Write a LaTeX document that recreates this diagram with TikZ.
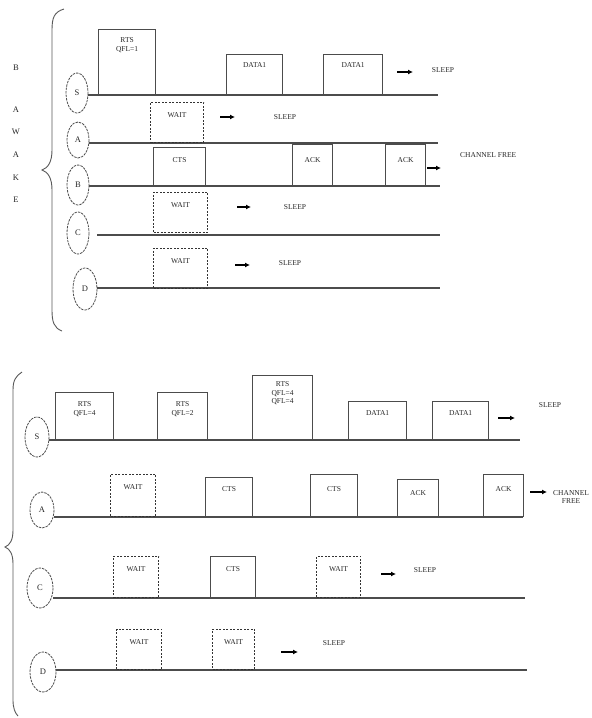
\documentclass[tikz,border=0pt]{standalone}
\usepackage{fontspec}
\setmainfont{Liberation Serif}
\usetikzlibrary{arrows.meta}
\begin{document}
\begin{tikzpicture}[x=1pt,y=-1pt,
  tl/.style={draw=black!70,line width=1.5pt},
  sbox/.style={draw=black!70,line width=1.2pt,inner sep=0pt,anchor=south west},
  dbox/.style={draw=black!80,line width=1.2pt,dash pattern=on 2pt off 1.5pt,inner sep=0pt,anchor=south west},
  lbl/.style={font=\fontsize{7.5}{8.5}\selectfont,text=black!85,align=center,inner sep=0pt},
  big/.style={font=\fontsize{8.5}{9.5}\selectfont},
  oval/.style={draw=black!70,line width=0.8pt,dash pattern=on 2.5pt off 1pt},
  arr/.style={-{Latex[length=5pt,width=5pt]},line width=1.5pt,black},
  brace/.style={draw=black!65,line width=0.9pt}]
\useasboundingbox (0,0) rectangle (592,718);

% ---------- top section ----------
\draw[brace] (64,9) .. controls (54,12) and (52,18) .. (52,30) -- (52,150)
  .. controls (52,162) and (48,168) .. (42,170) .. controls (48,172) and (52,178) .. (52,190)
  -- (52,310) .. controls (52,322) and (54,328) .. (62,331);
\foreach \t/\yy [count=\i] in {B/68,A/110,W/132,A/155,K/178,E/200}
  \node[lbl,big] (aw\i) at (16,\yy) {\t};

% S
\draw[oval] (77,93) circle[x radius=11,y radius=20];
\node[lbl,big] (tS) at (77,93) {S};
\coordinate (tSa) at (88,95); \coordinate (tSb) at (438,95);
\draw[tl] (tSa) -- (tSb);
\node[sbox,minimum width=57,minimum height=65] (t1) at (98,95) {};
\node[lbl,anchor=north] (t1l) at ([yshift=-9pt]t1.north) {RTS\\QFL=1};
\node[sbox,minimum width=56,minimum height=40] (t2) at (226,95) {};
\node[lbl,anchor=north] (t2l) at ([yshift=-9pt]t2.north) {DATA1};
\node[sbox,minimum width=59,minimum height=40] (t3) at (323,95) {};
\node[lbl,anchor=north] (t3l) at ([yshift=-9pt]t3.north) {DATA1};
\coordinate (ta1) at (397,72); \coordinate (ta2) at (413,72);
\draw[arr] (ta1) -- (ta2);
\node[lbl] (ts1) at (443,70) {SLEEP};

% A
\draw[oval] (78,140) circle[x radius=11,y radius=18];
\node[lbl,big] (tA) at (78,140) {A};
\coordinate (tAa) at (89,143); \coordinate (tAb) at (438,143);
\draw[tl] (tAa) -- (tAb);
\node[dbox,minimum width=53,minimum height=40] (t4) at (150,143) {};
\node[lbl,anchor=north] (t4l) at ([yshift=-11pt]t4.north) {WAIT};
\coordinate (ta3) at (220,117); \coordinate (ta4) at (235,117);
\draw[arr] (ta3) -- (ta4);
\node[lbl] (ts2) at (285,117) {SLEEP};

% B
\draw[oval] (78,185) circle[x radius=11,y radius=20];
\node[lbl,big] (tB) at (78,185) {B};
\coordinate (tBa) at (89,186); \coordinate (tBb) at (440,186);
\draw[tl] (tBa) -- (tBb);
\node[sbox,minimum width=52,minimum height=38] (t5) at (153,186) {};
\node[lbl,anchor=north] (t5l) at ([yshift=-11pt]t5.north) {CTS};
\node[sbox,minimum width=40,minimum height=41] (t6) at (292,186) {};
\node[lbl,anchor=north] (t6l) at ([yshift=-14pt]t6.north) {ACK};
\node[sbox,minimum width=40,minimum height=41] (t7) at (385,186) {};
\node[lbl,anchor=north] (t7l) at ([yshift=-14pt]t7.north) {ACK};
\coordinate (ta5) at (427,168); \coordinate (ta6) at (441,168);
\draw[arr] (ta5) -- (ta6);
\node[lbl,anchor=west] (ts3) at (460,155) {CHANNEL FREE};

% C
\draw[oval] (78,233) circle[x radius=11,y radius=21];
\node[lbl,big] (tC) at (78,233) {C};
\coordinate (tCa) at (97,235); \coordinate (tCb) at (440,235);
\draw[tl] (tCa) -- (tCb);
\node[dbox,minimum width=54,minimum height=40] (t8) at (153,233) {};
\node[lbl,anchor=north] (t8l) at ([yshift=-11pt]t8.north) {WAIT};
\coordinate (ta7) at (237,207); \coordinate (ta8) at (251,207);
\draw[arr] (ta7) -- (ta8);
\node[lbl] (ts4) at (295,207) {SLEEP};

% D
\draw[oval] (85,289) circle[x radius=12,y radius=21];
\node[lbl,big] (tD) at (85,289) {D};
\coordinate (tDa) at (97,288); \coordinate (tDb) at (440,288);
\draw[tl] (tDa) -- (tDb);
\node[dbox,minimum width=54,minimum height=40] (t9) at (153,289) {};
\node[lbl,anchor=north] (t9l) at ([yshift=-11pt]t9.north) {WAIT};
\coordinate (ta9) at (235,265); \coordinate (ta10) at (250,265);
\draw[arr] (ta9) -- (ta10);
\node[lbl] (ts5) at (290,263) {SLEEP};

% ---------- bottom section ----------
\draw[brace] (22,372) .. controls (16,376) and (13,380) .. (13,390) -- (13,530)
  .. controls (13,540) and (10,545) .. (5,547) .. controls (10,549) and (13,554) .. (13,564)
  -- (13,700) .. controls (13,708) and (15,713) .. (18,716);

% S
\draw[oval] (37,437) circle[x radius=12,y radius=20];
\node[lbl,big] (bS) at (37,437) {S};
\coordinate (bSa) at (49,440); \coordinate (bSb) at (520,440);
\draw[tl] (bSa) -- (bSb);
\node[sbox,minimum width=58,minimum height=47] (b1) at (55,440) {};
\node[lbl,anchor=north] (b1l) at ([yshift=-10pt]b1.north) {RTS\\QFL=4};
\node[sbox,minimum width=50,minimum height=47] (b2) at (157,440) {};
\node[lbl,anchor=north] (b2l) at ([yshift=-10pt]b2.north) {RTS\\QFL=2};
\node[sbox,minimum width=60,minimum height=64] (b3) at (252,440) {};
\node[lbl,anchor=north] (b3l) at ([yshift=-7pt]b3.north) {RTS\\QFL=4\\QFL=4};
\node[sbox,minimum width=58,minimum height=38] (b4) at (348,440) {};
\node[lbl,anchor=north] (b4l) at ([yshift=-10pt]b4.north) {DATA1};
\node[sbox,minimum width=56,minimum height=38] (b5) at (432,440) {};
\node[lbl,anchor=north] (b5l) at ([yshift=-10pt]b5.north) {DATA1};
\coordinate (ba1) at (498,418); \coordinate (ba2) at (515,418);
\draw[arr] (ba1) -- (ba2);
\node[lbl] (bs1) at (550,405) {SLEEP};

% A
\draw[oval] (42,510) circle[x radius=12,y radius=18];
\node[lbl,big] (bA) at (42,510) {A};
\coordinate (bAa) at (54,517); \coordinate (bAb) at (523,517);
\draw[tl] (bAa) -- (bAb);
\node[dbox,minimum width=45,minimum height=42] (b6) at (110,517) {};
\node[lbl,anchor=north] (b6l) at ([yshift=-11pt]b6.north) {WAIT};
\node[sbox,minimum width=47,minimum height=39] (b7) at (205,517) {};
\node[lbl,anchor=north] (b7l) at ([yshift=-10pt]b7.north) {CTS};
\node[sbox,minimum width=47,minimum height=42] (b8) at (310,517) {};
\node[lbl,anchor=north] (b8l) at ([yshift=-13pt]b8.north) {CTS};
\node[sbox,minimum width=41,minimum height=37] (b9) at (397,517) {};
\node[lbl,anchor=north] (b9l) at ([yshift=-12pt]b9.north) {ACK};
\node[sbox,minimum width=40,minimum height=42] (b10) at (483,517) {};
\node[lbl,anchor=north] (b10l) at ([yshift=-13pt]b10.north) {ACK};
\coordinate (ba3) at (530,492); \coordinate (ba4) at (547,492);
\draw[arr] (ba3) -- (ba4);
\node[lbl,anchor=west] (bs2) at (553,497) {CHANNEL\\FREE};

% C
\draw[oval] (40,588) circle[x radius=13,y radius=20];
\node[lbl,big] (bC) at (40,588) {C};
\coordinate (bCa) at (53,598); \coordinate (bCb) at (525,598);
\draw[tl] (bCa) -- (bCb);
\node[dbox,minimum width=45,minimum height=41] (b11) at (113,598) {};
\node[lbl,anchor=north] (b11l) at ([yshift=-11pt]b11.north) {WAIT};
\node[sbox,minimum width=45,minimum height=41] (b12) at (210,598) {};
\node[lbl,anchor=north] (b12l) at ([yshift=-11pt]b12.north) {CTS};
\node[dbox,minimum width=44,minimum height=41] (b13) at (316,598) {};
\node[lbl,anchor=north] (b13l) at ([yshift=-11pt]b13.north) {WAIT};
\coordinate (ba5) at (381,574); \coordinate (ba6) at (396,574);
\draw[arr] (ba5) -- (ba6);
\node[lbl] (bs3) at (425,570) {SLEEP};

% D
\draw[oval] (43,672) circle[x radius=13,y radius=20];
\node[lbl,big] (bD) at (43,672) {D};
\coordinate (bDa) at (56,670); \coordinate (bDb) at (527,670);
\draw[tl] (bDa) -- (bDb);
\node[dbox,minimum width=45,minimum height=40] (b14) at (116,670) {};
\node[lbl,anchor=north] (b14l) at ([yshift=-11pt]b14.north) {WAIT};
\node[dbox,minimum width=42,minimum height=40] (b15) at (212,670) {};
\node[lbl,anchor=north] (b15l) at ([yshift=-11pt]b15.north) {WAIT};
\coordinate (ba7) at (281,652); \coordinate (ba8) at (298,652);
\draw[arr] (ba7) -- (ba8);
\node[lbl] (bs4) at (334,643) {SLEEP};
\end{tikzpicture}
\end{document}
